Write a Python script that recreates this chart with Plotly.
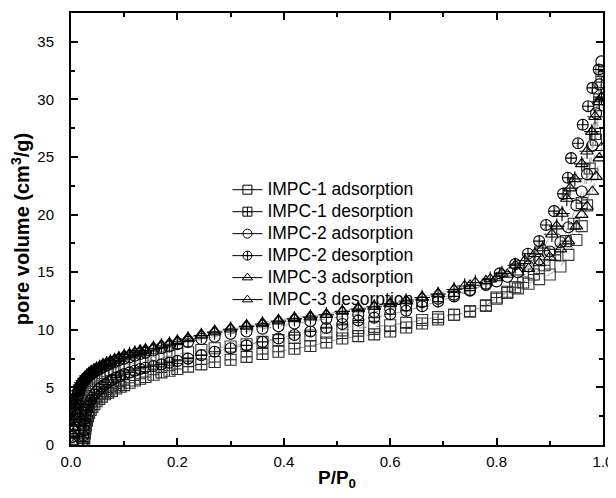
import plotly.graph_objects as go

# ---------------- data ----------------
ads_p = [0.002, 0.003, 0.004, 0.005, 0.006, 0.007, 0.008, 0.009, 0.010, 0.012,
         0.014, 0.016, 0.018, 0.020, 0.023, 0.026, 0.03, 0.034, 0.038, 0.043,
         0.048, 0.054, 0.06, 0.067, 0.074, 0.082, 0.09, 0.1, 0.11, 0.12,
         0.13, 0.14, 0.155, 0.17, 0.185, 0.2, 0.22, 0.245, 0.27, 0.3,
         0.33, 0.36, 0.39, 0.42, 0.45, 0.48, 0.51, 0.54, 0.57, 0.6,
         0.63, 0.66, 0.69, 0.72, 0.75, 0.78, 0.8, 0.82, 0.84, 0.86,
         0.88, 0.9, 0.92, 0.935, 0.95, 0.96, 0.97, 0.98, 0.987, 0.993,
         0.997]

impc1_ads = [0.1, 0.4, 0.8, 1.2, 1.7, 2.1, 2.5, 2.9, 3.2, 3.7,
             4.1, 4.4, 4.65, 4.85, 5.05, 5.2, 5.4, 5.55, 5.7, 5.85,
             5.95, 6.1, 6.25, 6.4, 6.5, 6.62, 6.75, 6.9, 7.0, 7.1,
             7.2, 7.3, 7.45, 7.6, 7.75, 7.9, 8.05, 8.25, 8.4, 8.55,
             8.75, 8.95, 9.1, 9.3, 9.5, 9.75, 9.95, 10.15, 10.25, 10.4,
             10.6, 10.85, 11.1, 11.3, 11.6, 12.1, 12.7, 13.2, 13.6, 14.0,
             14.4, 14.8, 15.5, 16.5, 17.8, 19.0, 20.8, 23.5, 26.5, 29.5,
             32.5]

impc2_ads = [0.2, 0.7, 1.2, 1.7, 2.2, 2.7, 3.1, 3.5, 3.8, 4.3,
             4.65, 4.9, 5.1, 5.3, 5.5, 5.65, 5.85, 6.0, 6.15, 6.3,
             6.45, 6.6, 6.75, 6.9, 7.05, 7.2, 7.35, 7.5, 7.62, 7.75,
             7.9, 8.0, 8.2, 8.4, 8.55, 8.75, 8.95, 9.2, 9.4, 9.65,
             9.85, 10.1, 10.3, 10.55, 10.75, 10.95, 11.1, 11.3, 11.55, 11.8,
             12.1, 12.4, 12.7, 13.05, 13.45, 13.9, 14.2, 14.6, 15.0, 15.5,
             16.1, 16.8, 17.6, 18.9, 20.8, 22.0, 23.5, 26.0, 28.8, 31.3,
             33.3]

impc3_ads = [0.3, 0.9, 1.5, 2.0, 2.5, 3.0, 3.4, 3.8, 4.1, 4.6,
             4.95, 5.2, 5.4, 5.55, 5.75, 5.9, 6.1, 6.25, 6.4, 6.55,
             6.7, 6.85, 7.0, 7.15, 7.3, 7.45, 7.6, 7.8, 7.9, 8.05,
             8.2, 8.3, 8.5, 8.7, 8.85, 9.05, 9.3, 9.6, 9.9, 10.15,
             10.4, 10.6, 10.85, 11.05, 11.2, 11.35, 11.65, 11.9, 12.05, 12.3,
             12.55, 12.85, 13.15, 13.5, 13.85, 14.25, 14.5, 14.8, 15.0, 15.3,
             15.8, 16.3, 17.0, 17.7, 19.0, 20.0, 20.7, 22.0, 23.3, 24.9,
             25.8]

impc1_des_p = [0.024, 0.025, 0.026, 0.027, 0.028, 0.03, 0.032, 0.034, 0.037, 0.04,
               0.044, 0.048, 0.053, 0.058, 0.064, 0.07, 0.077, 0.085, 0.093, 0.1,
               0.11, 0.12, 0.13, 0.14, 0.155, 0.17, 0.185, 0.2, 0.22, 0.245,
               0.27, 0.3, 0.33, 0.36, 0.39, 0.42, 0.45, 0.48, 0.51, 0.54,
               0.57, 0.6, 0.63, 0.66, 0.69, 0.72, 0.75, 0.78, 0.8, 0.82,
               0.835, 0.85, 0.87, 0.89, 0.91, 0.93, 0.945, 0.96, 0.975, 0.985,
               0.993, 0.997]
impc1_des = [0.2, 0.6, 1.0, 1.4, 1.7, 2.1, 2.5, 2.8, 3.05, 3.3,
             3.55, 3.8, 4.0, 4.2, 4.4, 4.55, 4.7, 4.9, 5.05, 5.2,
             5.4, 5.6, 5.75, 5.9, 6.1, 6.3, 6.45, 6.6, 6.8, 7.0,
             7.2, 7.4, 7.65, 7.9, 8.1, 8.35, 8.6, 8.9, 9.25, 9.45,
             9.6, 9.85, 10.2, 10.55, 10.9, 11.3, 11.6, 12.1, 12.8, 13.3,
             13.7, 14.1, 14.8, 15.6, 16.5, 17.7, 19.2, 21.0, 24.0, 27.0,
             30.0, 31.5]

impc2_des_p = [0.022, 0.023, 0.024, 0.025, 0.026, 0.027, 0.028, 0.03, 0.032, 0.034,
               0.037, 0.04, 0.044, 0.048, 0.053, 0.058, 0.064, 0.07, 0.077, 0.085,
               0.093, 0.1, 0.11, 0.12, 0.13, 0.14, 0.155, 0.17, 0.185, 0.2,
               0.22, 0.245, 0.27, 0.3, 0.33, 0.36, 0.39, 0.42, 0.45, 0.48,
               0.51, 0.54, 0.57, 0.6, 0.63, 0.66, 0.69, 0.72, 0.75, 0.78,
               0.806, 0.835, 0.859, 0.88, 0.893, 0.908, 0.925, 0.934, 0.94, 0.953,
               0.962, 0.972, 0.98, 0.992]
impc2_des = [0.3, 0.8, 1.3, 1.7, 2.0, 2.3, 2.6, 3.0, 3.3, 3.55,
             3.85, 4.1, 4.35, 4.6, 4.85, 5.05, 5.25, 5.45, 5.65, 5.85,
             6.0, 6.15, 6.3, 6.45, 6.6, 6.7, 6.85, 7.0, 7.15, 7.3,
             7.5, 7.8, 8.1, 8.4, 8.65, 8.95, 9.25, 9.55, 9.85, 10.15,
             10.5, 10.8, 11.05, 11.35, 11.65, 12.05, 12.45, 12.9, 13.4, 14.0,
             14.9, 15.7, 16.6, 17.7, 19.1, 20.3, 21.8, 23.2, 24.9, 26.2,
             27.8, 29.4, 31.0, 32.6]

impc3_des_p = [0.004, 0.005, 0.006, 0.007, 0.008, 0.009, 0.01, 0.012, 0.014, 0.016,
               0.018, 0.02, 0.023, 0.026, 0.03, 0.034, 0.038, 0.043, 0.048, 0.054,
               0.06, 0.067, 0.074, 0.082, 0.09, 0.1, 0.11, 0.12, 0.13, 0.14,
               0.155, 0.17, 0.185, 0.2, 0.22, 0.245, 0.27, 0.3, 0.33, 0.36,
               0.39, 0.42, 0.45, 0.48, 0.51, 0.54, 0.57, 0.6, 0.63, 0.66,
               0.69, 0.72, 0.74, 0.76, 0.788, 0.81, 0.835, 0.853, 0.872, 0.887,
               0.904, 0.913, 0.923, 0.932, 0.938, 0.947, 0.96, 0.97, 0.979, 0.985,
               0.993, 0.997]
impc3_des = [1.0, 1.6, 2.2, 2.7, 3.1, 3.5, 3.8, 4.3, 4.7, 5.0,
             5.2, 5.4, 5.6, 5.8, 6.0, 6.15, 6.3, 6.45, 6.6, 6.75,
             6.9, 7.05, 7.2, 7.35, 7.5, 7.7, 7.85, 8.0, 8.1, 8.2,
             8.4, 8.6, 8.75, 8.95, 9.2, 9.5, 9.8, 10.05, 10.3, 10.5,
             10.75, 10.95, 11.1, 11.3, 11.6, 11.8, 12.0, 12.25, 12.5, 12.8,
             13.1, 13.5, 13.8, 14.1, 14.4, 14.9, 15.6, 16.0, 16.6, 17.1,
             18.3, 19.0, 20.1, 21.4, 22.3, 23.1, 24.4, 25.5, 27.2, 28.5,
             29.8, 30.2]

series_names = ["IMPC-1 adsorption", "IMPC-1 desorption", "IMPC-2 adsorption",
                "IMPC-2 desorption", "IMPC-3 adsorption", "IMPC-3 desorption"]
x_ticks = [0.0, 0.2, 0.4, 0.6, 0.8, 1.0]
y_ticks = [0, 5, 10, 15, 20, 25, 30, 35]

# ---------------- styling ----------------
FONT = "Liberation Sans, Arial, Helvetica, sans-serif"
series = [
    (ads_p, impc1_ads, "square-open", "#3a3a3a"),
    (impc1_des_p, impc1_des, "square-cross-open", "#2a2a2a"),
    (ads_p, impc2_ads, "circle-open", "#000000"),
    (impc2_des_p, impc2_des, "circle-cross-open", "#000000"),
    (ads_p, impc3_ads, "triangle-up-open", "#000000"),
    (impc3_des_p, impc3_des, "triangle-up-open", "#000000"),
]

fig = go.Figure()
for (xs, ys, sym, col), name in zip(series, series_names):
    fig.add_trace(go.Scatter(
        x=xs, y=ys, mode="lines+markers", name=name, showlegend=False,
        line=dict(color="#8a8a8a", width=0.8, dash="dash"),
        marker=dict(symbol=sym, size=11, color=col, line=dict(width=1.1, color=col)),
    ))
# cross inside triangle for IMPC-3 desorption
fig.add_trace(go.Scatter(
    x=impc3_des_p, y=impc3_des, mode="markers", showlegend=False,
    marker=dict(symbol="cross-thin-open", size=11, color="#000000",
                line=dict(width=1.1, color="#000000")),
))

# legend-only entries with solid black line (larger text inside a tighter row height)
for (xs, ys, sym, col), name in zip(series, series_names):
    fig.add_trace(go.Scatter(
        x=[None], y=[None], mode="lines+markers",
        name='<span style="font-size:17.5px">' + name + '</span>',
        line=dict(color="#000000", width=1),
        marker=dict(symbol=sym, size=9, color="#000000", line=dict(width=1, color="#000000")),
    ))

axis_common = dict(
    showline=True, linewidth=2, linecolor="black", mirror="allticks",
    ticks="inside", ticklen=7, tickwidth=1.5, tickcolor="black",
    showgrid=False, zeroline=False,
    tickfont=dict(family=FONT, size=15, color="black"),
)

fig.update_xaxes(
    range=[0, 1.0], tickvals=x_ticks, tickformat=".1f", ticklabelstandoff=2,
    minor=dict(ticks="inside", ticklen=4, dtick=0.1, tickcolor="black", tickwidth=1.5),
    title=dict(text="<b>P/P<sub>0</sub></b>", font=dict(family=FONT, size=19, color="black"),
               standoff=2),
    **axis_common,
)
fig.update_yaxes(
    range=[0, 37.5], tickvals=y_ticks, ticklabelstandoff=12,
    minor=dict(ticks="inside", ticklen=4, dtick=2.5, tickcolor="black", tickwidth=1.5),
    title=dict(text="<b>pore volume (cm<sup>3</sup>/g)</b>", font=dict(family=FONT, size=20, color="black"),
               standoff=4),
    **axis_common,
)

# page body has an 8px margin, so the figure is sized/offset to fit the 616x498 window
fig.update_layout(
    width=608, height=490,
    margin=dict(l=63, r=13, t=3, b=53),
    paper_bgcolor="white", plot_bgcolor="white",
    font=dict(family=FONT, color="black"),
    legend=dict(x=0.294, y=0.628, xanchor="left", yanchor="top",
                bgcolor="rgba(0,0,0,0)", borderwidth=0,
                font=dict(family=FONT, size=14.6, color="black"),
                tracegroupgap=0, itemwidth=30),
)

fig.write_html("out.html")
